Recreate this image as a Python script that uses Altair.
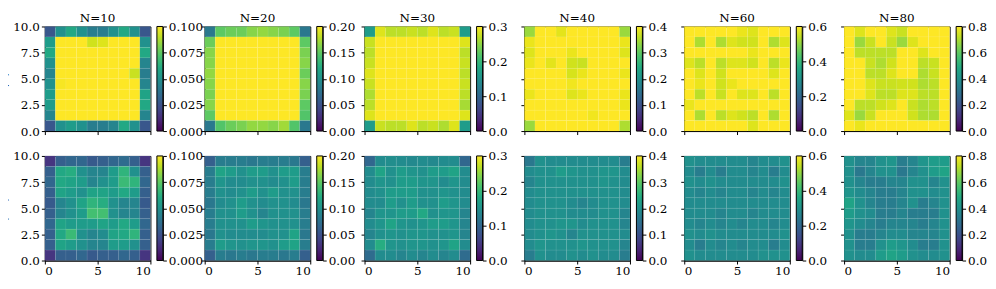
import altair as alt
import pandas as pd

# ---------------- data (rows listed top -> bottom, columns left -> right) ----------------
TITLES = ["N=10", "N=20", "N=30", "N=40", "N=60", "N=80"]
VMAX = [0.1, 0.2, 0.3, 0.4, 0.6, 0.8]
CB_TICKS = [
    [0.0, 0.025, 0.05, 0.075, 0.1],
    [0.0, 0.05, 0.1, 0.15, 0.2],
    [0.0, 0.1, 0.2, 0.3],
    [0.0, 0.1, 0.2, 0.3, 0.4],
    [0.0, 0.2, 0.4, 0.6],
    [0.0, 0.2, 0.4, 0.6, 0.8],
]
CB_FMT = [".3f", ".2f", ".1f", ".1f", ".1f", ".1f"]

# mean occupation <n>
N_10 = [
    [0.027, 0.050, 0.060, 0.050, 0.042, 0.042, 0.050, 0.060, 0.050, 0.027],
    [0.055, 0.110, 0.110, 0.110, 0.093, 0.095, 0.110, 0.110, 0.110, 0.050],
    [0.060, 0.110, 0.110, 0.110, 0.110, 0.110, 0.110, 0.110, 0.110, 0.060],
    [0.050, 0.110, 0.110, 0.110, 0.110, 0.110, 0.110, 0.110, 0.110, 0.045],
    [0.045, 0.110, 0.110, 0.110, 0.110, 0.110, 0.110, 0.110, 0.092, 0.042],
    [0.050, 0.099, 0.110, 0.110, 0.110, 0.110, 0.110, 0.110, 0.110, 0.045],
    [0.055, 0.110, 0.110, 0.110, 0.110, 0.110, 0.110, 0.110, 0.110, 0.058],
    [0.055, 0.110, 0.110, 0.110, 0.110, 0.110, 0.110, 0.110, 0.110, 0.060],
    [0.045, 0.110, 0.110, 0.110, 0.110, 0.110, 0.110, 0.110, 0.110, 0.045],
    [0.027, 0.050, 0.055, 0.050, 0.042, 0.042, 0.045, 0.060, 0.050, 0.027],
]
N_20 = [
    [0.080, 0.150, 0.155, 0.155, 0.164, 0.168, 0.164, 0.160, 0.150, 0.080],
    [0.155, 0.210, 0.210, 0.210, 0.210, 0.210, 0.210, 0.210, 0.210, 0.150],
    [0.164, 0.210, 0.210, 0.210, 0.210, 0.210, 0.210, 0.210, 0.210, 0.160],
    [0.164, 0.210, 0.210, 0.210, 0.210, 0.210, 0.210, 0.210, 0.210, 0.164],
    [0.168, 0.210, 0.210, 0.210, 0.210, 0.210, 0.210, 0.210, 0.210, 0.155],
    [0.164, 0.210, 0.210, 0.210, 0.210, 0.210, 0.210, 0.210, 0.210, 0.164],
    [0.160, 0.210, 0.210, 0.210, 0.210, 0.210, 0.210, 0.210, 0.210, 0.160],
    [0.164, 0.210, 0.210, 0.210, 0.210, 0.210, 0.210, 0.210, 0.210, 0.150],
    [0.150, 0.210, 0.210, 0.210, 0.210, 0.210, 0.210, 0.210, 0.210, 0.146],
    [0.080, 0.146, 0.155, 0.160, 0.168, 0.168, 0.164, 0.172, 0.146, 0.080],
]
N_30 = [
    [0.165, 0.285, 0.270, 0.270, 0.276, 0.270, 0.285, 0.270, 0.276, 0.165],
    [0.276, 0.310, 0.310, 0.310, 0.310, 0.310, 0.310, 0.310, 0.310, 0.285],
    [0.270, 0.310, 0.310, 0.310, 0.310, 0.310, 0.310, 0.310, 0.310, 0.270],
    [0.276, 0.310, 0.310, 0.310, 0.310, 0.310, 0.310, 0.310, 0.310, 0.276],
    [0.285, 0.310, 0.310, 0.310, 0.310, 0.310, 0.310, 0.310, 0.310, 0.270],
    [0.276, 0.310, 0.310, 0.310, 0.310, 0.310, 0.310, 0.310, 0.310, 0.276],
    [0.264, 0.310, 0.310, 0.310, 0.310, 0.310, 0.310, 0.310, 0.310, 0.270],
    [0.270, 0.310, 0.310, 0.310, 0.310, 0.310, 0.310, 0.310, 0.310, 0.261],
    [0.285, 0.310, 0.310, 0.310, 0.310, 0.310, 0.310, 0.310, 0.310, 0.285],
    [0.165, 0.276, 0.270, 0.270, 0.285, 0.270, 0.276, 0.264, 0.285, 0.165],
]
N_40 = [
    [0.340, 0.410, 0.410, 0.384, 0.410, 0.410, 0.410, 0.410, 0.410, 0.340],
    [0.388, 0.410, 0.410, 0.410, 0.410, 0.410, 0.410, 0.410, 0.410, 0.388],
    [0.380, 0.410, 0.410, 0.410, 0.388, 0.410, 0.410, 0.410, 0.410, 0.380],
    [0.388, 0.410, 0.384, 0.410, 0.372, 0.368, 0.410, 0.410, 0.410, 0.410],
    [0.410, 0.410, 0.410, 0.410, 0.376, 0.388, 0.410, 0.410, 0.410, 0.388],
    [0.410, 0.410, 0.410, 0.410, 0.392, 0.410, 0.410, 0.410, 0.410, 0.410],
    [0.388, 0.410, 0.410, 0.410, 0.380, 0.388, 0.410, 0.410, 0.410, 0.388],
    [0.410, 0.410, 0.410, 0.410, 0.410, 0.410, 0.410, 0.410, 0.410, 0.388],
    [0.410, 0.410, 0.410, 0.410, 0.410, 0.410, 0.392, 0.410, 0.410, 0.410],
    [0.340, 0.410, 0.410, 0.410, 0.410, 0.410, 0.410, 0.410, 0.410, 0.352],
]
N_60 = [
    [0.610, 0.610, 0.610, 0.610, 0.610, 0.582, 0.570, 0.610, 0.610, 0.610],
    [0.610, 0.528, 0.610, 0.528, 0.570, 0.558, 0.558, 0.610, 0.528, 0.570],
    [0.610, 0.610, 0.610, 0.610, 0.610, 0.610, 0.582, 0.610, 0.610, 0.610],
    [0.570, 0.540, 0.610, 0.540, 0.570, 0.570, 0.558, 0.610, 0.540, 0.582],
    [0.610, 0.570, 0.610, 0.558, 0.610, 0.610, 0.610, 0.610, 0.570, 0.610],
    [0.610, 0.582, 0.610, 0.558, 0.582, 0.610, 0.610, 0.610, 0.610, 0.610],
    [0.610, 0.540, 0.610, 0.552, 0.610, 0.570, 0.570, 0.610, 0.540, 0.610],
    [0.582, 0.610, 0.610, 0.610, 0.610, 0.610, 0.610, 0.610, 0.610, 0.610],
    [0.610, 0.528, 0.610, 0.540, 0.570, 0.558, 0.540, 0.610, 0.528, 0.610],
    [0.610, 0.610, 0.610, 0.610, 0.610, 0.610, 0.570, 0.610, 0.610, 0.610],
]
N_80 = [
    [0.810, 0.760, 0.810, 0.810, 0.760, 0.736, 0.810, 0.810, 0.810, 0.810],
    [0.810, 0.680, 0.736, 0.810, 0.736, 0.680, 0.760, 0.810, 0.810, 0.810],
    [0.810, 0.720, 0.720, 0.720, 0.720, 0.810, 0.810, 0.760, 0.810, 0.810],
    [0.810, 0.810, 0.736, 0.704, 0.744, 0.810, 0.810, 0.720, 0.736, 0.810],
    [0.810, 0.810, 0.720, 0.720, 0.760, 0.810, 0.810, 0.704, 0.736, 0.810],
    [0.810, 0.810, 0.760, 0.736, 0.736, 0.744, 0.744, 0.704, 0.720, 0.810],
    [0.810, 0.810, 0.760, 0.720, 0.720, 0.760, 0.760, 0.720, 0.720, 0.810],
    [0.810, 0.720, 0.720, 0.744, 0.760, 0.810, 0.736, 0.704, 0.720, 0.810],
    [0.760, 0.680, 0.736, 0.810, 0.810, 0.810, 0.744, 0.704, 0.704, 0.810],
    [0.810, 0.776, 0.810, 0.810, 0.810, 0.810, 0.810, 0.810, 0.810, 0.810],
]

# fluctuation <n_sigma>
S_10 = [
    [0.015, 0.030, 0.033, 0.033, 0.028, 0.030, 0.033, 0.035, 0.030, 0.015],
    [0.030, 0.060, 0.062, 0.050, 0.045, 0.045, 0.055, 0.065, 0.050, 0.030],
    [0.033, 0.060, 0.058, 0.055, 0.045, 0.050, 0.055, 0.068, 0.065, 0.033],
    [0.030, 0.058, 0.055, 0.050, 0.058, 0.058, 0.055, 0.060, 0.055, 0.030],
    [0.028, 0.045, 0.050, 0.058, 0.065, 0.062, 0.050, 0.045, 0.045, 0.028],
    [0.030, 0.045, 0.050, 0.055, 0.070, 0.070, 0.050, 0.045, 0.045, 0.030],
    [0.033, 0.058, 0.055, 0.055, 0.055, 0.058, 0.055, 0.060, 0.055, 0.033],
    [0.030, 0.060, 0.068, 0.050, 0.045, 0.048, 0.058, 0.060, 0.065, 0.030],
    [0.030, 0.058, 0.055, 0.050, 0.045, 0.045, 0.055, 0.055, 0.050, 0.030],
    [0.015, 0.030, 0.030, 0.033, 0.028, 0.030, 0.030, 0.033, 0.030, 0.015],
]
S_20 = [
    [0.060, 0.084, 0.084, 0.084, 0.080, 0.084, 0.084, 0.084, 0.080, 0.060],
    [0.084, 0.116, 0.110, 0.100, 0.110, 0.110, 0.100, 0.110, 0.110, 0.084],
    [0.084, 0.104, 0.096, 0.096, 0.100, 0.100, 0.096, 0.100, 0.110, 0.084],
    [0.084, 0.100, 0.096, 0.100, 0.110, 0.100, 0.110, 0.100, 0.100, 0.084],
    [0.080, 0.096, 0.100, 0.110, 0.100, 0.096, 0.100, 0.100, 0.096, 0.080],
    [0.084, 0.100, 0.100, 0.110, 0.100, 0.090, 0.100, 0.100, 0.100, 0.084],
    [0.084, 0.100, 0.100, 0.100, 0.110, 0.104, 0.100, 0.100, 0.100, 0.084],
    [0.080, 0.100, 0.096, 0.096, 0.096, 0.096, 0.100, 0.100, 0.116, 0.080],
    [0.084, 0.110, 0.104, 0.100, 0.104, 0.104, 0.100, 0.110, 0.116, 0.084],
    [0.060, 0.084, 0.080, 0.084, 0.080, 0.084, 0.084, 0.080, 0.084, 0.060],
]
S_30 = [
    [0.099, 0.144, 0.147, 0.144, 0.141, 0.144, 0.141, 0.144, 0.144, 0.099],
    [0.144, 0.174, 0.150, 0.165, 0.156, 0.150, 0.165, 0.165, 0.174, 0.144],
    [0.144, 0.156, 0.150, 0.165, 0.165, 0.156, 0.156, 0.144, 0.156, 0.144],
    [0.144, 0.150, 0.165, 0.165, 0.165, 0.150, 0.150, 0.156, 0.150, 0.144],
    [0.144, 0.144, 0.165, 0.150, 0.165, 0.150, 0.150, 0.165, 0.156, 0.144],
    [0.135, 0.156, 0.156, 0.165, 0.165, 0.180, 0.150, 0.156, 0.156, 0.135],
    [0.144, 0.156, 0.174, 0.156, 0.150, 0.156, 0.165, 0.165, 0.156, 0.135],
    [0.135, 0.150, 0.156, 0.150, 0.156, 0.156, 0.150, 0.150, 0.156, 0.135],
    [0.144, 0.186, 0.156, 0.150, 0.156, 0.156, 0.150, 0.156, 0.174, 0.144],
    [0.105, 0.144, 0.144, 0.135, 0.144, 0.135, 0.144, 0.135, 0.144, 0.105],
]
S_40 = [
    [0.160, 0.200, 0.192, 0.192, 0.192, 0.192, 0.192, 0.192, 0.192, 0.168],
    [0.192, 0.200, 0.200, 0.220, 0.208, 0.200, 0.200, 0.208, 0.208, 0.192],
    [0.180, 0.200, 0.200, 0.200, 0.200, 0.200, 0.200, 0.208, 0.200, 0.192],
    [0.192, 0.200, 0.200, 0.200, 0.200, 0.200, 0.200, 0.200, 0.200, 0.192],
    [0.192, 0.200, 0.200, 0.200, 0.192, 0.180, 0.192, 0.200, 0.200, 0.192],
    [0.192, 0.200, 0.200, 0.200, 0.192, 0.192, 0.192, 0.200, 0.200, 0.180],
    [0.192, 0.200, 0.200, 0.208, 0.208, 0.192, 0.200, 0.200, 0.200, 0.180],
    [0.192, 0.200, 0.208, 0.200, 0.180, 0.200, 0.200, 0.200, 0.200, 0.192],
    [0.192, 0.208, 0.200, 0.200, 0.200, 0.208, 0.200, 0.200, 0.200, 0.180],
    [0.168, 0.200, 0.192, 0.192, 0.200, 0.192, 0.200, 0.192, 0.192, 0.168],
]
S_60 = [
    [0.300, 0.288, 0.288, 0.288, 0.288, 0.288, 0.270, 0.288, 0.288, 0.300],
    [0.288, 0.252, 0.288, 0.252, 0.288, 0.288, 0.270, 0.288, 0.252, 0.288],
    [0.300, 0.288, 0.300, 0.288, 0.288, 0.288, 0.288, 0.288, 0.288, 0.300],
    [0.288, 0.270, 0.288, 0.270, 0.288, 0.288, 0.270, 0.288, 0.270, 0.288],
    [0.288, 0.288, 0.288, 0.288, 0.288, 0.288, 0.288, 0.288, 0.288, 0.288],
    [0.288, 0.288, 0.288, 0.270, 0.288, 0.288, 0.270, 0.288, 0.288, 0.288],
    [0.288, 0.270, 0.288, 0.270, 0.288, 0.270, 0.288, 0.288, 0.270, 0.288],
    [0.300, 0.288, 0.300, 0.288, 0.288, 0.288, 0.288, 0.288, 0.288, 0.300],
    [0.288, 0.252, 0.288, 0.270, 0.288, 0.270, 0.288, 0.288, 0.252, 0.288],
    [0.300, 0.288, 0.288, 0.288, 0.288, 0.288, 0.288, 0.300, 0.300, 0.300],
]
S_80 = [
    [0.400, 0.360, 0.360, 0.400, 0.416, 0.336, 0.360, 0.416, 0.440, 0.440],
    [0.400, 0.320, 0.360, 0.400, 0.400, 0.320, 0.360, 0.400, 0.440, 0.464],
    [0.400, 0.360, 0.336, 0.336, 0.360, 0.360, 0.400, 0.400, 0.360, 0.400],
    [0.416, 0.384, 0.360, 0.336, 0.336, 0.360, 0.400, 0.400, 0.384, 0.400],
    [0.464, 0.400, 0.360, 0.336, 0.336, 0.360, 0.400, 0.336, 0.360, 0.400],
    [0.440, 0.400, 0.384, 0.336, 0.336, 0.360, 0.336, 0.336, 0.336, 0.400],
    [0.416, 0.384, 0.360, 0.336, 0.360, 0.360, 0.360, 0.336, 0.360, 0.400],
    [0.400, 0.336, 0.336, 0.360, 0.384, 0.384, 0.360, 0.360, 0.360, 0.400],
    [0.400, 0.336, 0.336, 0.400, 0.440, 0.416, 0.384, 0.336, 0.336, 0.400],
    [0.400, 0.384, 0.384, 0.440, 0.464, 0.440, 0.400, 0.384, 0.384, 0.400],
]

TOP = [N_10, N_20, N_30, N_40, N_60, N_80]
BOTTOM = [S_10, S_20, S_30, S_40, S_60, S_80]
ROW_TITLES = ["⟨n⟩", "⟨nσ⟩"]

# ---------------- styling ----------------
VIRIDIS = ["#440154", "#482475", "#414487", "#355f8d", "#2a788e", "#21918c",
           "#22a884", "#44bf70", "#7ad151", "#bddf26", "#fde725"]
FONT = "DejaVu Serif"
HM_W, HM_H = 106, 105
CB_GAP, CB_W = 6.5, 6
PITCH = 160.5


def grid_frame(vals):
    rows = []
    n = len(vals)
    for r, row in enumerate(vals):
        for c, v in enumerate(row):
            rows.append({"x0": c, "x1": c + 1, "y0": n - 1 - r, "y1": n - r, "v": v})
    return pd.DataFrame(rows)


def panel(vals, vmax, ticks, fmt, title, top, first):
    hm = alt.Chart(grid_frame(vals)).mark_rect(
        stroke="white", strokeWidth=0.4, strokeOpacity=0.12
    ).encode(
        x=alt.X("x0:Q", scale=alt.Scale(domain=[0, 10], nice=False, zero=False),
                axis=alt.Axis(values=[0, 5, 10], format="d", labels=not top, title=None)),
        x2="x1",
        y=alt.Y("y0:Q", scale=alt.Scale(domain=[0, 10], nice=False, zero=False),
                axis=alt.Axis(values=[0, 2.5, 5, 7.5, 10], format=".1f", labels=first,
                              title=(ROW_TITLES[0] if top else ROW_TITLES[1]) if first else None,
                              titleFont=FONT, titleFontSize=12, titleFontStyle="italic",
                              titleFontWeight="normal", titlePadding=3)),
        y2="y1",
        color=alt.Color("v:Q", scale=alt.Scale(scheme="viridis", domain=[0, vmax], clamp=True),
                        legend=None),
    )
    grad = alt.Gradient(
        gradient="linear",
        stops=[alt.GradientStop(offset=i / (len(VIRIDIS) - 1), color=col)
               for i, col in enumerate(VIRIDIS)],
        x1=0, x2=0, y1=1, y2=0,
    )
    cb = alt.Chart(pd.DataFrame({"lo": [0.0], "hi": [vmax]})).mark_rect(
        fill=grad, stroke="black", strokeWidth=1
    ).encode(
        y=alt.Y("lo:Q", scale=alt.Scale(domain=[0, vmax], nice=False, zero=False),
                axis=alt.Axis(orient="right", offset=CB_GAP + CB_W, values=ticks,
                              format=fmt, title=None)),
        y2="hi",
        x=alt.value(HM_W + CB_GAP),
        x2=alt.value(HM_W + CB_GAP + CB_W),
    )
    ch = alt.layer(hm, cb).resolve_scale(y="independent").properties(width=HM_W, height=HM_H)
    if title:
        ch = ch.properties(title=alt.TitleParams(title, font=FONT, fontSize=12,
                                                 fontWeight="normal", offset=-5,
                                                 anchor="middle", frame="group"))
    return ch


panels = []
for top, data in [(True, TOP), (False, BOTTOM)]:
    for i in range(6):
        panels.append(panel(data[i], VMAX[i], CB_TICKS[i], CB_FMT[i],
                            TITLES[i] if top else None, top, i == 0))

chart = alt.concat(
    *panels, columns=6, spacing={"row": 25, "column": PITCH - HM_W}, bounds="flush"
).resolve_scale(
    color="independent", x="independent", y="independent"
).properties(
    padding={"left": -12, "top": 3, "right": 0, "bottom": 0}
).configure_view(
    stroke="black", strokeWidth=1
).configure_axis(
    labelFont=FONT, labelFontSize=12, labelColor="black",
    domainColor="black", tickColor="black", tickSize=3.5, labelPadding=2,
    grid=False, domain=True,
)

chart.save("out.html", embed_options={"renderer": "svg", "actions": False})
